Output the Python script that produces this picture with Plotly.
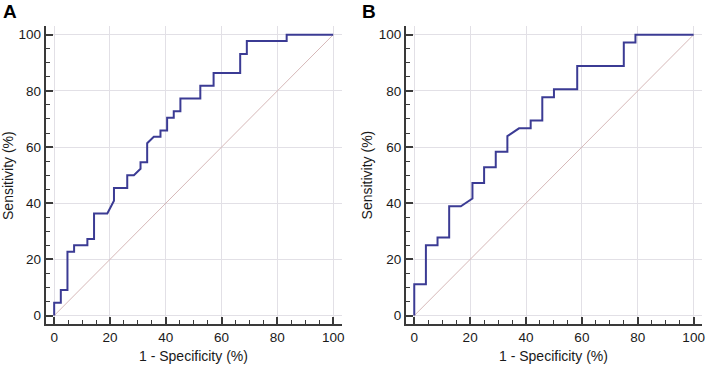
import plotly.graph_objects as go

# Panel A ROC curve (1 - specificity %, sensitivity %)
spec_a = [0, 0, 2.38, 2.38, 4.76, 4.76, 7.14, 7.14, 11.9, 11.9, 14.29, 14.29, 19.05, 21.43, 21.43,
          26.19, 26.19, 28.57, 30.95, 30.95, 33.33, 33.33, 35.71, 38.1, 38.1, 40.48, 40.48, 42.86,
          42.86, 45.24, 45.24, 52.38, 52.38, 57.14, 57.14, 66.67, 66.67, 69.05, 69.05, 83.33, 83.33, 100]
sens_a = [0, 4.55, 4.55, 9.09, 9.09, 22.73, 22.73, 25, 25, 27.27, 27.27, 36.36, 36.36, 40.91, 45.45,
          45.45, 50, 50, 52.27, 54.55, 54.55, 61.36, 63.64, 63.64, 65.91, 65.91, 70.45, 70.45,
          72.73, 72.73, 77.27, 77.27, 81.82, 81.82, 86.36, 86.36, 93.18, 93.18, 97.73, 97.73, 100, 100]

# Panel B ROC curve
spec_b = [0, 0, 4.17, 4.17, 8.33, 8.33, 12.5, 12.5, 16.67, 20.83, 20.83, 25, 25, 29.17, 29.17,
          33.33, 33.33, 37.5, 41.67, 41.67, 45.83, 45.83, 50, 50, 58.33, 58.33, 75, 75, 79.17, 79.17, 100]
sens_b = [0, 11.11, 11.11, 25, 25, 27.78, 27.78, 38.89, 38.89, 41.67, 47.22, 47.22, 52.78, 52.78, 58.33,
          58.33, 63.89, 66.67, 66.67, 69.44, 69.44, 77.78, 77.78, 80.56, 80.56, 88.89, 88.89, 97.22, 97.22, 100, 100]

diag = [0, 100]
tick_vals = [0, 20, 40, 60, 80, 100]
tick_text = ["0", "20", "40", "60", "80", "100"]
panel_labels = ["A", "B"]
x_title = "1 - Specificity (%)"
y_title = "Sensitivity (%)"

CURVE = "#3b3b94"
DIAG = "#d6b8b8"
GRID = "#e2e0e6"
AXIS = "#3a3a3a"
FONT = "Liberation Sans, Arial, sans-serif"

fig = go.Figure()
for i, (sx, sy) in enumerate([(spec_a, sens_a), (spec_b, sens_b)]):
    xa = "x" if i == 0 else "x2"
    ya = "y" if i == 0 else "y2"
    fig.add_trace(go.Scatter(x=diag, y=diag, mode="lines", xaxis=xa, yaxis=ya,
                             line=dict(color=DIAG, width=1), hoverinfo="skip", showlegend=False))
    fig.add_trace(go.Scatter(x=sx, y=sy, mode="lines", xaxis=xa, yaxis=ya,
                             line=dict(color=CURVE, width=2), showlegend=False))

W, H = 709, 365
xdom = [[46 / W, 343 / W], [407.6 / W, 705 / W]]
ydom = [(H - 324) / H, (H - 26.3) / H]

def axis_style(domain, anchor):
    return dict(domain=domain, anchor=anchor, range=[-3, 103], tickvals=tick_vals, ticktext=tick_text,
                showgrid=True, gridcolor=GRID, gridwidth=1, zeroline=False,
                showline=True, linecolor=AXIS, linewidth=2, ticks="inside", ticklen=7,
                tickwidth=1.5, tickcolor=AXIS,
                minor=dict(dtick=5, tick0=0, ticks="inside", ticklen=4, tickcolor=AXIS, tickwidth=1, showgrid=False),
                tickfont=dict(family=FONT, size=13.5, color="#1a1a1a"), fixedrange=True)

fig.update_layout(
    width=W, height=H, margin=dict(l=0, r=0, t=0, b=0),
    paper_bgcolor="white", plot_bgcolor="white",
    xaxis=axis_style(xdom[0], "y"), yaxis=axis_style(ydom, "x"),
    xaxis2=axis_style(xdom[1], "y2"), yaxis2=axis_style(ydom, "x2"),
)

ann = []
for i in range(2):
    cx = (xdom[i][0] + xdom[i][1]) / 2
    ann.append(dict(text=x_title, x=cx, y=(H - 356) / H, xref="paper", yref="paper",
                    xanchor="center", yanchor="middle", showarrow=False,
                    font=dict(family=FONT, size=14, color="#1a1a1a")))
    ann.append(dict(text=y_title, x=(8 if i == 0 else 369) / W, y=(H - 175) / H, xref="paper", yref="paper",
                    xanchor="center", yanchor="middle", textangle=-90, showarrow=False,
                    font=dict(family=FONT, size=14, color="#1a1a1a")))
    ann.append(dict(text="<b>%s</b>" % panel_labels[i], x=(10 if i == 0 else 371) / W, y=(H - 11.5) / H,
                    xref="paper", yref="paper", xanchor="center", yanchor="middle", showarrow=False,
                    font=dict(family=FONT, size=19, color="#000000")))
fig.update_layout(annotations=ann)

fig.write_html("out.html", config={"displayModeBar": False},
               post_script="document.body.style.margin='0px';document.body.style.overflow='hidden';")
